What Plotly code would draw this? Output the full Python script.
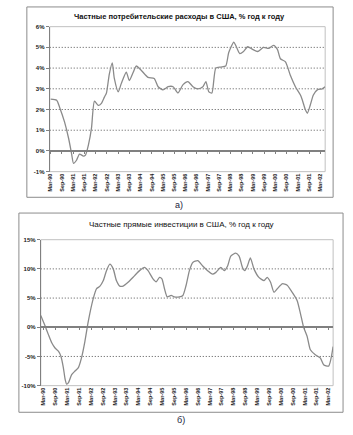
import plotly.graph_objects as go

W, H = 353, 435

# ---- data (months since Mar-90) ----
tick_labels = ["Mar-90", "Sep-90", "Mar-91", "Sep-91", "Mar-92", "Sep-92", "Mar-93", "Sep-93",
               "Mar-94", "Sep-94", "Mar-95", "Sep-95", "Mar-96", "Sep-96", "Mar-97", "Sep-97",
               "Mar-98", "Sep-98", "Mar-99", "Sep-99", "Mar-00", "Sep-00", "Mar-01", "Sep-01", "Mar-02"]
tick_months = [6 * i for i in range(len(tick_labels))]

cons_month = [0, 3.2, 4.8, 7.4, 9.6, 11.2, 12.2, 13.8, 15.4, 17.5, 18.6, 20.2, 21.8, 23.4, 25.5,
              27.1, 28.7, 29.8, 31.3, 32.9, 34, 36.1, 37.7, 40.4, 42, 44.1, 45.7, 48.3, 52, 55.3,
              57.4, 60, 62.7, 65.4, 68, 70.7, 73.3, 76, 78.6, 81.3, 82.9, 84.5, 86.1, 88.2, 90.9,
              93.5, 95.1, 97.8, 98.8, 101, 103, 105.2, 107.9, 110.5, 113.7, 116.4, 119, 121.1,
              122.7, 125.4, 128, 130.7, 133.4, 134.4, 136, 137.1, 138.7, 140.3, 142.4, 145, 146.6]
cons_value = [2.5, 2.45, 2.1, 1.4, 0.6, -0.15, -0.6, -0.45, -0.15, -0.25, -0.2, 0.3, 1.1, 2.4, 2.2,
              2.3, 2.6, 2.8, 3.7, 4.25, 3.5, 2.85, 3.25, 3.8, 3.4, 3.8, 4.1, 3.9, 3.55, 3.5,
              3.1, 2.95, 3.1, 3.1, 2.8, 3.2, 3.35, 3.1, 3.0, 3.1, 3.35, 2.85, 2.8, 4.0, 4.05,
              4.1, 4.75, 5.25, 5.1, 4.7, 4.8, 5.03, 4.9, 4.8, 5.0, 4.95, 5.1, 4.9,
              4.45, 4.3, 3.65, 3.1, 2.7, 2.46, 2.0, 1.82, 2.23, 2.7, 2.95, 3.0, 3.1]

inv_month = [-1.4, 0.8, 2.5, 4.2, 5.8, 7.5, 8.8, 10, 10.9, 11.7, 12.6, 14.2, 15.9, 17.6, 19.2,
             20.9, 22.6, 25.1, 26.8, 28.4, 30.2, 31.8, 33.5, 35.2, 36.8, 38.5, 40.2, 42.7, 46,
             48.5, 51, 52.8, 55.3, 56.9, 58.6, 59.8, 61.1, 62.5, 64.5, 66.1, 68.6, 70.4, 72,
             73.7, 75.4, 77.9, 80.4, 82.9, 85.4, 87.1, 89.6, 91.3, 93, 94.6, 97.1, 98.8, 100.5,
             101.7, 103, 104.5, 106.3, 108.8, 111.4, 113, 114.7, 116.4, 118.1, 120.6, 123.1,
             125.6, 128.1, 129.8, 131.4, 133.2, 134.8, 137.3, 139.8, 141.5, 144, 146.3]
inv_value = [2.0, 0.2, -1.3, -2.7, -3.55, -4.1, -5.0, -6.9, -8.9, -9.75, -9.5, -8.1, -7.5, -6.9, -5.2,
             -2.4, 1.0, 4.9, 6.6, 7.0, 8.0, 9.7, 10.8, 10.0, 8.0, 7.05, 7.05, 7.7, 8.85,
             9.7, 10.25, 9.7, 8.3, 7.8, 8.55, 8.3, 6.6, 5.2, 5.45, 5.2, 5.2, 5.45, 7.15,
             9.7, 11.1, 11.4, 10.5, 9.7, 9.1, 9.4, 10.25, 9.7, 10.5, 12.2, 12.7, 12.2, 10.25,
             9.7, 10.5, 11.9, 10.0, 8.55, 8.0, 8.55, 7.7, 6.0, 6.6, 7.45, 7.2,
             6.0, 4.6, 2.35, 0.0, -1.6, -3.85, -4.7, -5.25, -6.4, -6.65, -3.3]

title_top = "Частные потребительские расходы в США, % год к году"
title_bot = "Частные прямые инвестиции в США, % год к году"
cons_ticks = [-1, 0, 1, 2, 3, 4, 5, 6]
inv_ticks = [-10, -5, 0, 5, 10, 15]
cons_grid = [1, 2, 3, 4, 5]
inv_grid = [-5, 5, 10]

# ---- layout helpers (pixel -> paper) ----
def px(x):
    return x / W

def py(y):
    return 1 - y / H

FONT = "Liberation Sans, Arial, sans-serif"
LINE = "#8a8a8a"
GRID = "#555555"

top_x = [px(48), px(325)]
top_y = [py(171), py(24)]
bot_x = [px(39), px(333)]
bot_y = [py(388), py(240)]

fig = go.Figure()
fig.add_trace(go.Scatter(x=cons_month, y=cons_value, mode="lines", xaxis="x", yaxis="y",
                         line=dict(color=LINE, width=1.3, shape="spline", smoothing=0.6),
                         showlegend=False, hoverinfo="skip"))
fig.add_trace(go.Scatter(x=inv_month, y=inv_value, mode="lines", xaxis="x2", yaxis="y2",
                         line=dict(color=LINE, width=1.3, shape="spline", smoothing=0.6),
                         showlegend=False, hoverinfo="skip"))

xtickfont = dict(family=FONT, size=5.5, color="#222", weight="bold")
ytickfont = dict(family=FONT, size=6, color="#222", weight="bold")
common_x = dict(tickmode="array", tickvals=tick_months, ticktext=tick_labels, tickangle=-90,
                ticks="", showgrid=False, zeroline=False, showline=False, tickfont=xtickfont)
common_y = dict(tickmode="array", showgrid=False,
                zeroline=False, showline=True, linecolor="#808080", linewidth=1,
                ticks="outside", ticklen=3, tickcolor="#808080", tickfont=ytickfont)

fig.update_layout(
    width=W, height=H, margin=dict(l=0, r=0, t=0, b=0),
    paper_bgcolor="white", plot_bgcolor="white",
    xaxis=dict(domain=top_x, anchor="y", range=[-0.5, 146.6], **common_x),
    yaxis=dict(domain=top_y, anchor="x", range=[-1, 6], tickvals=cons_ticks,
               ticktext=[f"{v}%" for v in cons_ticks], **common_y),
    xaxis2=dict(domain=bot_x, anchor="y2", range=[-1.4, 146.3], **common_x),
    yaxis2=dict(domain=bot_y, anchor="x2", range=[-10, 15], tickvals=inv_ticks,
                ticktext=[f"{v}%" for v in inv_ticks], **common_y),
    # zero-line axes carrying the small tick marks
    xaxis3=dict(overlaying="x", anchor="free", position=py(150), range=[-0.5, 146.6],
                tickmode="array", tickvals=tick_months, showticklabels=False, ticks="outside",
                ticklen=2, tickcolor="#808080", showline=True, linecolor="#808080", linewidth=1.5,
                showgrid=False, zeroline=False),
    xaxis4=dict(overlaying="x2", anchor="free", position=py(329), range=[-1.4, 146.3],
                tickmode="array", tickvals=tick_months, showticklabels=False, ticks="outside",
                ticklen=2, tickcolor="#808080", showline=True, linecolor="#808080", linewidth=1.5,
                showgrid=False, zeroline=False),
)
fig.add_trace(go.Scatter(x=[0], y=[0], xaxis="x3", yaxis="y", mode="markers",
                         marker=dict(opacity=0), showlegend=False, hoverinfo="skip"))
fig.add_trace(go.Scatter(x=[0], y=[0], xaxis="x4", yaxis="y2", mode="markers",
                         marker=dict(opacity=0), showlegend=False, hoverinfo="skip"))

shapes = []
# outer chart frames
shapes.append(dict(type="rect", xref="paper", yref="paper", x0=px(25), x1=px(333), y0=py(197), y1=py(4),
                   line=dict(color="#8c8c8c", width=1)))
shapes.append(dict(type="rect", xref="paper", yref="paper", x0=px(17), x1=px(343), y0=py(415), y1=py(213),
                   line=dict(color="#8c8c8c", width=1)))
# plot-area borders
shapes.append(dict(type="rect", xref="x domain", yref="y domain", x0=0, x1=1, y0=0, y1=1,
                   line=dict(color="#c0c0c0", width=1), layer="below"))
shapes.append(dict(type="rect", xref="x2 domain", yref="y2 domain", x0=0, x1=1, y0=0, y1=1,
                   line=dict(color="#c0c0c0", width=1), layer="below"))
# dotted gridlines
for v in cons_grid:
    shapes.append(dict(type="line", xref="x domain", yref="y", x0=0, x1=1, y0=v, y1=v,
                       line=dict(color=GRID, width=1, dash="1px,2px"), layer="below"))
for v in inv_grid:
    shapes.append(dict(type="line", xref="x2 domain", yref="y2", x0=0, x1=1, y0=v, y1=v,
                       line=dict(color=GRID, width=1, dash="1px,2px"), layer="below"))
fig.update_layout(shapes=shapes)

fig.add_annotation(x=px(179), y=py(14), xref="paper", yref="paper", text=title_top, showarrow=False,
                   font=dict(family=FONT, size=7.5, color="#111", weight="bold"), xanchor="center", yanchor="middle")
fig.add_annotation(x=px(181), y=py(225), xref="paper", yref="paper", text=title_bot, showarrow=False,
                   font=dict(family=FONT, size=8, color="#111"), xanchor="center", yanchor="middle")
fig.add_annotation(x=px(178), y=py(205), xref="paper", yref="paper", text="а)", showarrow=False,
                   font=dict(family=FONT, size=9, color="#1a1a3a"), xanchor="center", yanchor="middle")
fig.add_annotation(x=px(180), y=py(423), xref="paper", yref="paper", text="б)", showarrow=False,
                   font=dict(family=FONT, size=9, color="#1a1a3a"), xanchor="center", yanchor="middle")

fig.write_html("out.html")
